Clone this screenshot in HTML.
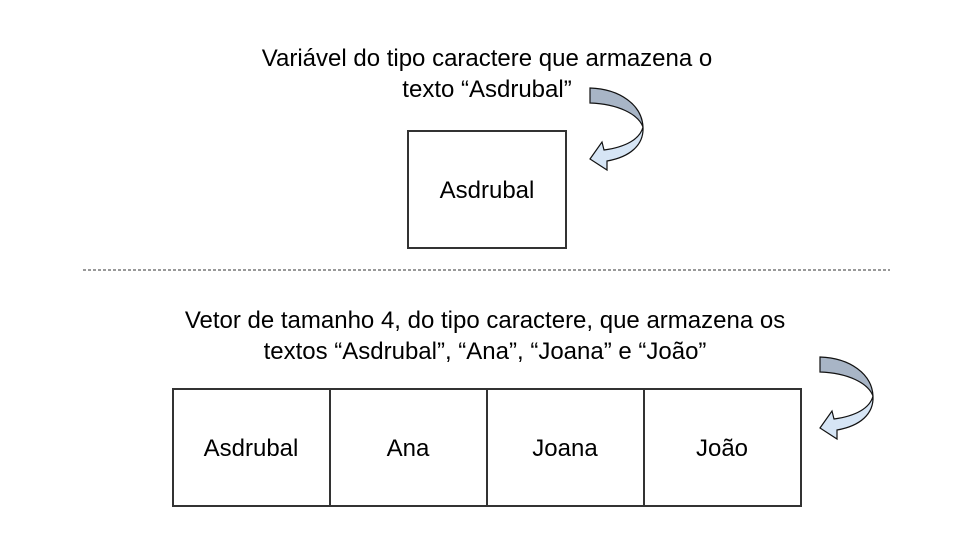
<!DOCTYPE html>
<html><head><meta charset="utf-8"><style>
body{margin:0;background:#fff;}
svg{display:block;font-family:"Liberation Sans",Arial,sans-serif;}
</style></head><body>
<svg width="960" height="540" viewBox="0 0 960 540">
  <defs>
    <g id="arrow-shape">
      <path d="M0,1 C30,2 52,18 53,40 C48,27 28,17 0,16 Z" fill="#a8b5c6" stroke="#111" stroke-width="1.2"/>
      <path d="M53,40 C54,58 40,70 17,74 L17,83 L0,72 L12,55 L14,63 C36,60 50,52 53,40 Z" fill="#d6e5f5" stroke="#111" stroke-width="1.2"/>
    </g>
  </defs>
  <text x="487" y="66" font-size="24" text-anchor="middle" fill="#000">Variável do tipo caractere que armazena o</text>
  <text x="487" y="97" font-size="24" text-anchor="middle" fill="#000">texto “Asdrubal”</text>
  <g transform="translate(590,87)"><use href="#arrow-shape"/></g>
  <rect x="408" y="131" width="158" height="117" fill="#fff" stroke="#333" stroke-width="2"/>
  <text x="487" y="198" font-size="24" text-anchor="middle" fill="#000">Asdrubal</text>
  <line x1="83" y1="270" x2="890" y2="270" stroke="#333" stroke-width="1" stroke-dasharray="3,2"/>
  <text x="485" y="328" font-size="24" text-anchor="middle" fill="#000">Vetor de tamanho 4, do tipo caractere, que armazena os</text>
  <text x="485" y="359" font-size="24" text-anchor="middle" fill="#000">textos “Asdrubal”, “Ana”, “Joana” e “João”</text>
  <g transform="translate(820,356)"><use href="#arrow-shape"/></g>
  <g>
    <rect x="173" y="389" width="628" height="117" fill="#fff" stroke="#333" stroke-width="2"/>
    <line x1="330" y1="389" x2="330" y2="506" stroke="#333" stroke-width="2"/>
    <line x1="487" y1="389" x2="487" y2="506" stroke="#333" stroke-width="2"/>
    <line x1="644" y1="389" x2="644" y2="506" stroke="#333" stroke-width="2"/>
    <text x="251" y="456" font-size="24" text-anchor="middle">Asdrubal</text>
    <text x="408" y="456" font-size="24" text-anchor="middle">Ana</text>
    <text x="565" y="456" font-size="24" text-anchor="middle">Joana</text>
    <text x="722" y="456" font-size="24" text-anchor="middle">João</text>
  </g>
</svg>
</body></html>
